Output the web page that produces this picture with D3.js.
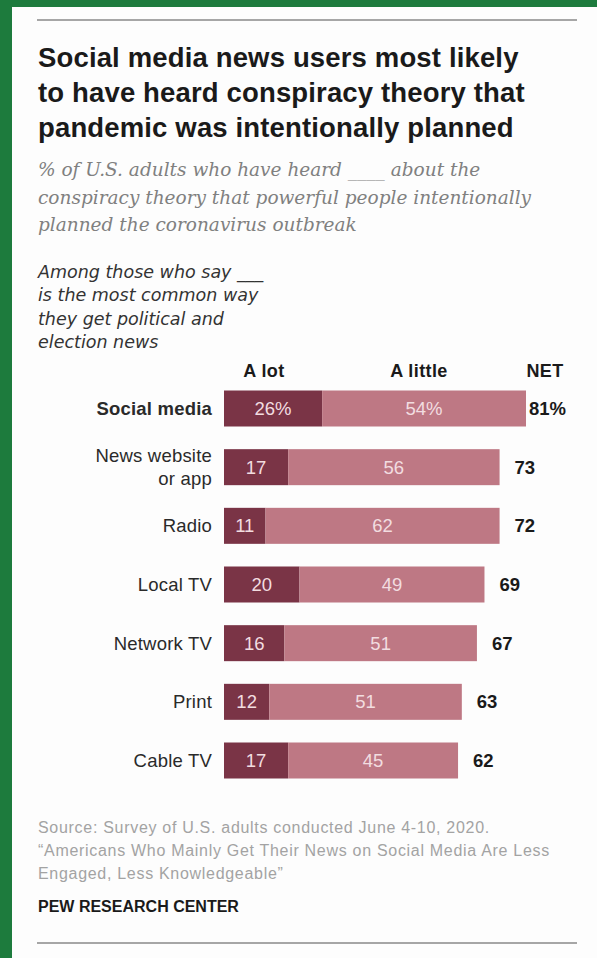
<!DOCTYPE html>
<html>
<head>
<meta charset="utf-8">
<script src="https://cdn.jsdelivr.net/npm/d3@7"></script>
<style>
  body { margin: 0; background: #fff; }
  svg { display: block; }
</style>
</head>
<body>
<svg class="chart"></svg>
<script>
// canvas
const width = 597;
const height = 958;

// data
const categories = ["Social media", "News website or app", "Radio", "Local TV", "Network TV", "Print", "Cable TV"];
const labelLines = [["Social media"], ["News website", "or app"], ["Radio"], ["Local TV"], ["Network TV"], ["Print"], ["Cable TV"]];
const aLot = [26, 17, 11, 20, 16, 12, 17];
const aLittle = [54, 56, 62, 49, 51, 51, 45];
const net = [81, 73, 72, 69, 67, 63, 62];
const columns = ["A lot", "A little", "NET"];

const titleLines = [
    "Social media news users most likely",
    "to have heard conspiracy theory that",
    "pandemic was intentionally planned"
];
const subtitleLines = [
    "% of U.S. adults who have heard ____ about the",
    "conspiracy theory that powerful people intentionally",
    "planned the coronavirus outbreak"
];
const groupLines = [
    "Among those who say ___",
    "is the most common way",
    "they get political and",
    "election news"
];
const sourceLines = [
    "Source: Survey of U.S. adults conducted June 4-10, 2020.",
    "\u201CAmericans Who Mainly Get Their News on Social Media Are Less",
    "Engaged, Less Knowledgeable\u201D"
];

const rows = categories.map((c, i) => ({
    cat: c, lines: labelLines[i], lot: aLot[i], little: aLittle[i], net: net[i], first: i === 0
}));

const sans = "Liberation Sans, Arial, sans-serif";

const svg = d3.select(".chart").attr("width", width).attr("height", height);

// green frame
svg.append("rect").attr("width", width).attr("height", height).attr("fill", "#1d7b3d");
svg.append("rect").attr("x", 12).attr("y", 7).attr("width", width - 12).attr("height", height - 7).attr("fill", "#fdfdfd");

// rules
svg.append("line").attr("x1", 37).attr("x2", 577).attr("y1", 20).attr("y2", 20)
    .attr("stroke", "#a6a6a6").attr("stroke-width", 2);
svg.append("line").attr("x1", 37).attr("x2", 577).attr("y1", 943).attr("y2", 943)
    .attr("stroke", "#a6a6a6").attr("stroke-width", 2);

// title
svg.append("g").selectAll("text").data(titleLines).enter().append("text")
    .attr("x", 38).attr("y", (d, i) => 67 + i * 35)
    .attr("font-family", sans)
    .attr("font-weight", "bold").attr("font-size", 27.5).attr("letter-spacing", 0.15)
    .attr("fill", "#1a1a1a")
    .text(d => d);

// subtitle
svg.append("g").selectAll("text").data(subtitleLines).enter().append("text")
    .attr("x", 38).attr("y", (d, i) => 176 + i * 27.5)
    .attr("font-family", "DejaVu Serif, Georgia, serif")
    .attr("font-style", "italic").attr("font-size", 18.5).attr("fill", "#808080")
    .text(d => d);

// group label
svg.append("g").selectAll("text").data(groupLines).enter().append("text")
    .attr("x", 38).attr("y", (d, i) => 278 + i * 23.3)
    .attr("font-family", "DejaVu Sans, sans-serif")
    .attr("font-style", "italic").attr("font-size", 17.5).attr("fill", "#333")
    .text(d => d);

// scales
const x = d3.scaleLinear().domain([0, 80]).range([224, 526]);
const y = d3.scalePoint().domain(categories).range([408.5, 760.5]);
const barH = 36;

// column headers
const headerX = [264, 419, 545];
svg.append("g").selectAll("text").data(columns).enter().append("text")
    .attr("x", (d, i) => headerX[i]).attr("y", 377)
    .attr("text-anchor", "middle")
    .attr("font-family", sans)
    .attr("font-weight", "bold").attr("font-size", 18).attr("letter-spacing", 0.4)
    .attr("fill", "#1a1a1a")
    .text(d => d);

const row = svg.append("g").selectAll("g").data(rows).enter().append("g")
    .attr("transform", d => `translate(0,${y(d.cat)})`);

// bars
row.append("rect")
    .attr("x", x(0)).attr("y", -barH / 2)
    .attr("width", d => x(d.lot) - x(0)).attr("height", barH)
    .attr("fill", "#7a3446");
row.append("rect")
    .attr("x", d => x(d.lot)).attr("y", -barH / 2)
    .attr("width", d => x(d.lot + d.little) - x(d.lot)).attr("height", barH)
    .attr("fill", "#be7884");

// values inside bars
row.append("text")
    .attr("x", d => (x(0) + x(d.lot)) / 2).attr("y", 6.5)
    .attr("text-anchor", "middle")
    .attr("font-family", sans)
    .attr("font-size", 18.5).attr("fill", "#f2dde0")
    .text(d => d.first ? d.lot + "%" : d.lot);
row.append("text")
    .attr("x", d => (x(d.lot) + x(d.lot + d.little)) / 2).attr("y", 6.5)
    .attr("text-anchor", "middle")
    .attr("font-family", sans)
    .attr("font-size", 18.5).attr("fill", "#f2dde0")
    .text(d => d.first ? d.little + "%" : d.little);

// NET
row.append("text")
    .attr("x", d => x(d.lot + d.little) + (d.first ? 3 : 15)).attr("y", 6.5)
    .attr("font-family", sans)
    .attr("font-weight", "bold").attr("font-size", 18.5).attr("fill", "#1a1a1a")
    .text(d => d.first ? d.net + "%" : d.net);

// category labels
row.append("text")
    .attr("x", 212)
    .attr("y", d => 6.5 - (d.lines.length - 1) * 11.5)
    .attr("text-anchor", "end")
    .attr("font-family", sans)
    .attr("font-weight", d => d.first ? "bold" : "normal")
    .attr("font-size", 18.5).attr("letter-spacing", 0.2).attr("fill", "#2a2a2a")
    .selectAll("tspan").data(d => d.lines).enter().append("tspan")
    .attr("x", 212).attr("dy", (d, i) => i === 0 ? 0 : 23)
    .text(d => d);

// source
svg.append("g").selectAll("text").data(sourceLines).enter().append("text")
    .attr("x", 38).attr("y", (d, i) => 833 + i * 23)
    .attr("font-family", sans)
    .attr("font-size", 16).attr("letter-spacing", 0.7).attr("fill", "#a3a3a3")
    .text(d => d);

svg.append("text")
    .attr("x", 38).attr("y", 912)
    .attr("font-family", sans)
    .attr("font-weight", "bold").attr("font-size", 16).attr("fill", "#1a1a1a")
    .text("PEW RESEARCH CENTER");
</script>
</body>
</html>
